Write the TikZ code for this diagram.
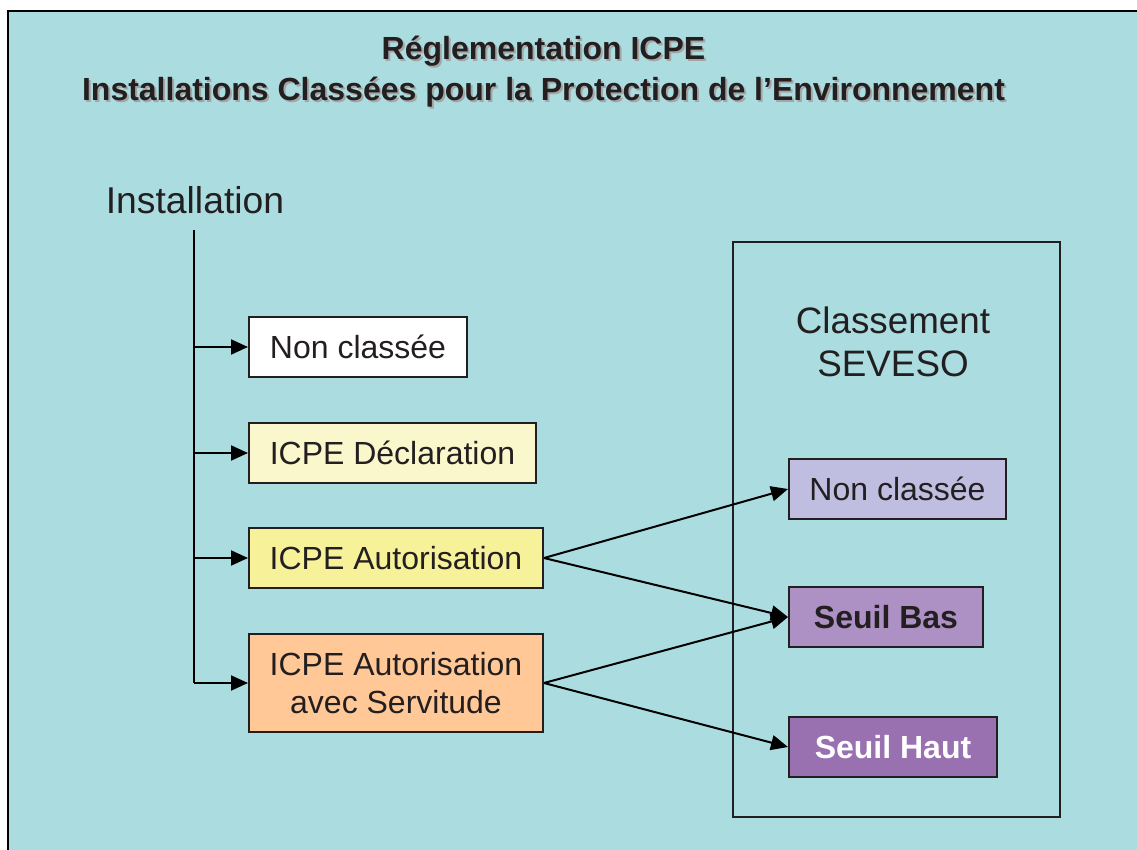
\documentclass[tikz,border=0pt]{standalone}
\usepackage{fontspec}
\setmainfont{Liberation Sans}
\usetikzlibrary{arrows.meta}
\definecolor{bgteal}{RGB}{171,221,224}
\definecolor{txt}{RGB}{35,31,32}
\definecolor{cdecl}{RGB}{249,247,203}
\definecolor{cauto}{RGB}{247,242,154}
\definecolor{cserv}{RGB}{255,200,150}
\definecolor{cnc}{RGB}{192,190,224}
\definecolor{cbas}{RGB}{173,145,196}
\definecolor{chaut}{RGB}{153,112,176}
\definecolor{shadowgray}{RGB}{165,165,165}
\tikzset{
  x=1pt, y=-1pt,
  boxnode/.style={draw=txt, line width=2pt, inner sep=0pt, text=txt, align=center,
    font=\fontsize{32}{38}\selectfont},
  arr/.style={draw=black, line width=2pt, -{Triangle[length=17pt,width=15pt]}},
  titletext/.style={font=\bfseries\fontsize{32}{41}\selectfont, align=center}
}
\begin{document}
\begin{tikzpicture}
\useasboundingbox (0,0) rectangle (1137,850);
\fill[white] (0,0) rectangle (1137,850);
\fill[bgteal] (8,11) rectangle (1137,850);
\draw[line width=2.5pt, black] (8,850) -- (8,11) -- (1137,11);
% title
\node[titletext, text=shadowgray] at (545.5,74) {Réglementation ICPE\\Installations Classées pour la Protection de l’Environnement};
\node[titletext, text=txt] (title) at (543.5,72) {Réglementation ICPE\\Installations Classées pour la Protection de l’Environnement};
% installation
\node[text=txt, font=\fontsize{37.3}{43}\selectfont] (inst) at (195,200) {Installation};
% SEVESO frame
\node[draw=txt, line width=2pt, minimum width=327pt, minimum height=575pt, inner sep=0pt] (sev) at (896.5,529.5) {};
\node[text=txt, align=center, font=\fontsize{36.8}{43}\selectfont] (sevt) at (893,342) {Classement\\SEVESO};
% left boxes
\node[boxnode, fill=white, minimum width=218pt, minimum height=60pt] (nc1) at (358,347) {Non classée};
\node[boxnode, fill=cdecl, minimum width=287pt, minimum height=60pt] (decl) at (392.5,453) {ICPE Déclaration};
\node[boxnode, fill=cauto, minimum width=294pt, minimum height=60pt] (auto) at (396,558) {ICPE Autorisation};
\node[boxnode, fill=cserv, minimum width=294pt, minimum height=98pt] (serv) at (396,683) {ICPE Autorisation\\avec Servitude};
% right boxes
\node[boxnode, fill=cnc, minimum width=217pt, minimum height=60pt] (nc2) at (897.5,489) {Non classée};
\node[boxnode, fill=cbas, minimum width=194pt, minimum height=60pt, font=\bfseries\fontsize{32}{38}\selectfont] (bas) at (886,617) {Seuil Bas};
\node[boxnode, fill=chaut, minimum width=208pt, minimum height=60pt, text=white, font=\bfseries\fontsize{32}{38}\selectfont] (haut) at (893,747) {Seuil Haut};
% trunk
\coordinate (ttop) at (194,230);
\coordinate (tbot) at (194,683);
\draw[line width=2pt] (ttop) -- (tbot);
\draw[arr] (nc1.west -| ttop) -- (nc1.west);
\draw[arr] (decl.west -| ttop) -- (decl.west);
\draw[arr] (auto.west -| ttop) -- (auto.west);
\draw[arr] (serv.west -| ttop) -- (serv.west);
% cross connectors
\draw[arr] (auto.east) -- (nc2.west);
\draw[arr] (auto.east) -- (bas.west);
\draw[arr] (serv.east) -- (bas.west);
\draw[arr] (serv.east) -- (haut.west);
\end{tikzpicture}
\end{document}
